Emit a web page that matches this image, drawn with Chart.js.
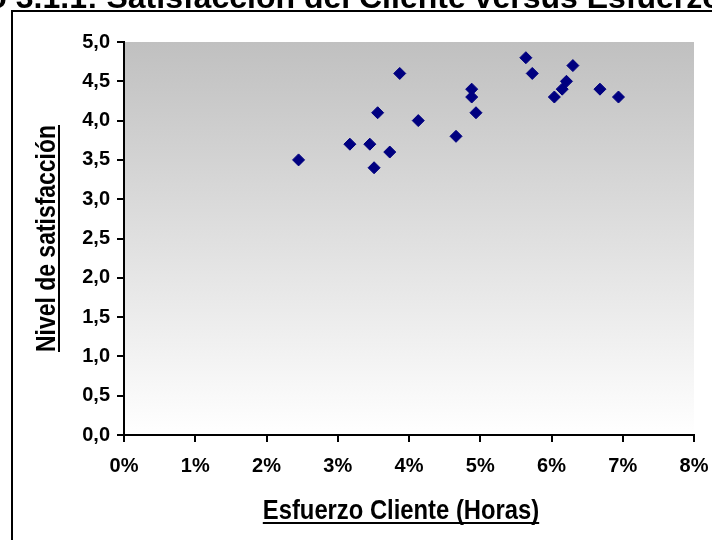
<!DOCTYPE html>
<html>
<head>
<meta charset="utf-8">
<script src="https://cdn.jsdelivr.net/npm/chart.js@4.4.1/dist/chart.umd.min.js"></script>
<style>
  html, body { margin: 0; padding: 0; background: #ffffff; overflow: hidden; }
  canvas { display: block; }
</style>
</head>
<body>
<canvas id="chart" width="712" height="540"></canvas>
<script>
// Texts
const chartTitle = 'Gráfico 3.1.1: Satisfacción del Cliente versus Esfuerzo del Cliente';
const xAxisTitle = 'Esfuerzo Cliente (Horas)';
const yAxisTitle = 'Nivel de satisfacción';

// Client effort (share of hours) and satisfaction level, one entry per client
const effort = [
  0.0245, 0.0317, 0.0345, 0.0356, 0.0351, 0.0373, 0.0387, 0.0413, 0.0466, 0.0488,
  0.0488, 0.0494, 0.0564, 0.0573, 0.0630, 0.0604, 0.0615, 0.0621, 0.0668, 0.0694
];
const satisfaction = [
  3.5, 3.7, 3.7, 4.1, 3.4, 3.6, 4.6, 4.0, 3.8, 4.4,
  4.3, 4.1, 4.8, 4.6, 4.7, 4.3, 4.4, 4.5, 4.4, 4.3
];

// Tick labels
const xTickLabels = ['0%', '1%', '2%', '3%', '4%', '5%', '6%', '7%', '8%'];
const yTickLabels = ['0,0', '0,5', '1,0', '1,5', '2,0', '2,5', '3,0', '3,5', '4,0', '4,5', '5,0'];

const FONT = "'Liberation Sans', Arial, sans-serif";

const points = effort.map((x, i) => ({ x: x, y: satisfaction[i] }));

// Outer frame, heading and gradient plot background
const backdrop = {
  id: 'backdrop',
  beforeDraw(chart) {
    const { ctx, chartArea: a } = chart;
    ctx.save();
    ctx.fillStyle = '#ffffff';
    ctx.fillRect(0, 0, chart.width, chart.height);

    // frame of the chart object
    ctx.strokeStyle = '#000000';
    ctx.lineWidth = 2;
    ctx.strokeRect(12, 11, chart.width + 40, chart.height + 40);

    // heading, wider than the canvas
    ctx.font = 'bold 32px ' + FONT;
    ctx.fillStyle = '#000000';
    ctx.textBaseline = 'alphabetic';
    ctx.textAlign = 'left';
    const lead = ctx.measureText('Gráfico 3.1.1: Satisfacción del ').width;
    ctx.fillText(chartTitle, 359 - lead, 8);

    // plot area gradient
    const g = ctx.createLinearGradient(0, a.top, 0, a.bottom);
    g.addColorStop(0, '#c0c0c0');
    g.addColorStop(1, '#ffffff');
    ctx.fillStyle = g;
    ctx.fillRect(a.left, a.top, a.right - a.left, a.bottom - a.top);
    ctx.restore();
  }
};

// Underlined, narrow axis titles
function narrowUnderlined(ctx, text, size) {
  ctx.font = 'bold ' + size + 'px ' + FONT;
  const w = ctx.measureText(text).width;
  ctx.save();
  ctx.scale(0.85, 1);
  ctx.fillText(text, 0, 0);
  ctx.restore();
  ctx.beginPath();
  ctx.moveTo(-w * 0.85 / 2, 4);
  ctx.lineTo(w * 0.85 / 2, 4);
  ctx.stroke();
}

const axisTitles = {
  id: 'axisTitles',
  afterDraw(chart) {
    const { ctx, chartArea: a } = chart;
    ctx.save();
    ctx.fillStyle = '#000000';
    ctx.strokeStyle = '#000000';
    ctx.lineWidth = 2;
    ctx.textAlign = 'center';
    ctx.textBaseline = 'alphabetic';

    // x title
    ctx.save();
    ctx.translate((a.left + a.right) / 2 - 8, 519);
    narrowUnderlined(ctx, xAxisTitle, 28);
    ctx.restore();

    // y title (rotated)
    ctx.save();
    ctx.translate(55, (a.top + a.bottom) / 2);
    ctx.rotate(-Math.PI / 2);
    narrowUnderlined(ctx, yAxisTitle, 27);
    ctx.restore();

    ctx.restore();
  }
};

new Chart(document.getElementById('chart'), {
  type: 'scatter',
  data: {
    datasets: [{
      data: points,
      pointStyle: 'rectRot',
      pointRadius: 6,
      pointHoverRadius: 6,
      backgroundColor: '#000080',
      borderColor: '#000080',
      borderWidth: 1
    }]
  },
  options: {
    responsive: false,
    animation: false,
    events: [],
    layout: { padding: { left: 0, top: 42, right: 18, bottom: 0 } },
    plugins: {
      legend: { display: false },
      tooltip: { enabled: false },
      title: { display: false }
    },
    scales: {
      x: {
        type: 'linear',
        min: 0,
        max: 0.08,
        afterFit(s) { s.height = 105; s.paddingLeft = 0; s.paddingRight = 0; },
        afterBuildTicks(s) { s.ticks = xTickLabels.map((_, i) => ({ value: i / 100 })); },
        ticks: {
          autoSkip: false,
          maxRotation: 0,
          padding: 12,
          color: '#000000',
          font: { family: FONT, size: 20, weight: 'bold' },
          callback: (v, i) => xTickLabels[i]
        },
        grid: { drawOnChartArea: false, drawTicks: true, tickLength: 7, tickColor: '#000000', lineWidth: 2 },
        border: { display: true, color: '#000000', width: 2 }
      },
      y: {
        min: 0,
        max: 5,
        afterFit(s) { s.width = 124; s.paddingTop = 0; s.paddingBottom = 0; },
        afterBuildTicks(s) { s.ticks = yTickLabels.map((_, i) => ({ value: i * 0.5 })); },
        ticks: {
          autoSkip: false,
          padding: 7,
          color: '#000000',
          font: { family: FONT, size: 20, weight: 'bold' },
          callback: (v, i) => yTickLabels[i]
        },
        grid: { drawOnChartArea: false, drawTicks: true, tickLength: 7, tickColor: '#000000', lineWidth: 2 },
        border: { display: true, color: '#000000', width: 2 }
      }
    }
  },
  plugins: [backdrop, axisTitles]
});
</script>
</body>
</html>
